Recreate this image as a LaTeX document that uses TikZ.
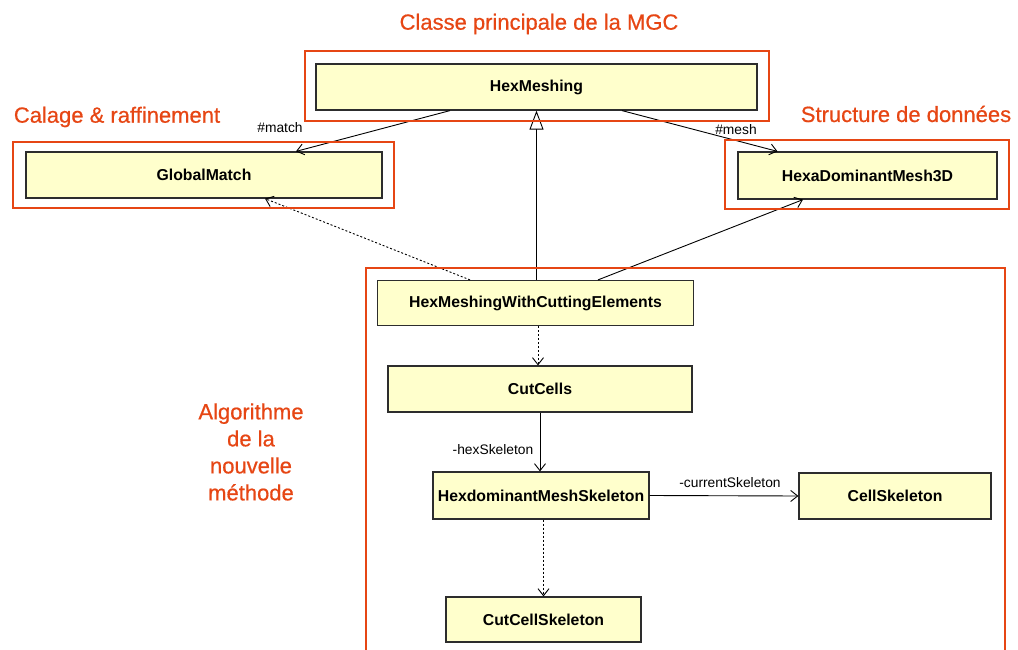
\documentclass[tikz,border=0pt]{standalone}
\usepackage{fontspec}
\setmainfont{Liberation Sans}
\newfontfamily\headfont[FakeBold=0.6]{Liberation Sans}
\usetikzlibrary{arrows.meta}
\definecolor{orng}{RGB}{230,70,20}
\definecolor{clsfill}{RGB}{255,255,204}
\definecolor{clsedge}{RGB}{45,45,45}
\begin{document}
\begin{tikzpicture}[x=1pt,y=-1pt,
  cbox/.style={draw=clsedge, line width=1.2pt, fill=clsfill, inner sep=0pt,
    font=\bfseries\fontsize{15.8}{18}\selectfont},
  frame/.style={draw=orng, line width=2.8pt},
  heading/.style={text=orng, inner sep=0pt, font=\headfont\fontsize{22}{27}\selectfont},
  small/.style={inner sep=0pt, font=\fontsize{13.8}{16}\selectfont},
  assoc/.style={draw=black, line width=0.9pt, -{Straight Barb[length=7pt,width=11pt,line width=0.9pt]}},
  dep/.style={assoc, dash pattern=on 2pt off 2pt},
  inherit/.style={draw=black, line width=0.9pt, -{Triangle[open,length=19pt,width=14pt,fill=white,line width=0.9pt]}}
]
\useasboundingbox (0,0) rectangle (1018,650);

% class boxes
\node[cbox, minimum width=441pt, minimum height=46pt] (hm) at (536.5,87) {HexMeshing};
\node[cbox, minimum width=356pt, minimum height=46pt] (gm) at (204,175) {GlobalMatch};
\node[cbox, minimum width=259pt, minimum height=47pt] (hd) at (867.5,175.5) {HexaDominantMesh3D};
\node[cbox, minimum width=316pt, minimum height=45pt] (hw) at (535.5,303) {HexMeshingWithCuttingElements};
\node[cbox, minimum width=304pt, minimum height=46pt] (cc) at (540,389) {CutCells};
\node[cbox, minimum width=216pt, minimum height=47pt] (hs) at (541,495.5) {HexdominantMeshSkeleton};
\node[cbox, minimum width=192pt, minimum height=46pt] (cs) at (895,496) {CellSkeleton};
\node[cbox, minimum width=195pt, minimum height=45pt] (ccs) at (543.5,619.5) {CutCellSkeleton};

% connectors
\draw[assoc] ([xshift=-86.5pt]hm.south) -- ([xshift=92pt]gm.north);
\draw[assoc] ([xshift=85.5pt]hm.south) -- ([xshift=-90pt]hd.north);
\draw[inherit] (hm.south |- hw.north) -- (hm.south);
\draw[dep] ([xshift=-65.5pt]hw.north) -- ([xshift=61pt]gm.south);
\draw[assoc] ([xshift=62.5pt]hw.north) -- ([xshift=-64.5pt]hd.south);
\draw[dep] ([xshift=2.5pt]hw.south) -- ([xshift=-2pt]cc.north);
\draw[assoc] (cc.south) -- (cc.south |- hs.north);
\draw[assoc] (hs.east) -- (cs.west);
\draw[dep] (ccs.north |- hs.south) -- (ccs.north);

% connector labels
\node[small] (lmatch) at (280,128) {\#match};
\node[small] (lmesh) at (736,130) {\#mesh};
\node[small] (lhex) at (493,450) {-hexSkeleton};
\node[small] (lcur) at (730,483) {-currentSkeleton};

% orange frames
\draw[frame] (305,51) rectangle (769,121);
\draw[frame] (13,142) rectangle (394,208);
\draw[frame] (725,140) rectangle (1009,209);
\draw[frame] (366,660) -- (366,268) -- (1005,268) -- (1005,660);

% headings
\node[heading] (t1) at (539,24) {Classe principale de la MGC};
\node[heading] (t2) at (117,117) {Calage \& raffinement};
\node[heading] (t3) at (906,114) {Structure de données};
\node[heading, align=center] (t4) at (251,452) {Algorithme\\de la\\nouvelle\\méthode};
\end{tikzpicture}
\end{document}
